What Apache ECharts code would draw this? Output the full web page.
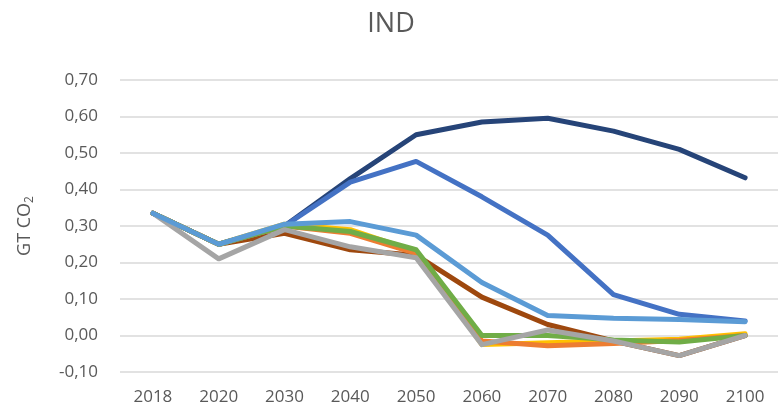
<!DOCTYPE html>
<html>
<head>
<meta charset="utf-8">
<script src="https://cdn.jsdelivr.net/npm/echarts@6/dist/echarts.min.js"></script>
<style>
  html, body { margin: 0; padding: 0; background: #fff; }
  #chart { width: 782px; height: 417px; }
</style>
</head>
<body>
<div id="chart"></div>
<script>
var years = ['2018', '2020', '2030', '2040', '2050', '2060', '2070', '2080', '2090', '2100'];

var navy   = [0.335, 0.250, 0.300, 0.430, 0.550, 0.585, 0.595, 0.560, 0.510, 0.432];
var blue   = [0.335, 0.250, 0.300, 0.420, 0.477, 0.380, 0.275, 0.112, 0.058, 0.040];
var ltblue = [0.335, 0.250, 0.305, 0.312, 0.275, 0.145, 0.055, 0.047, 0.044, 0.038];
var orange = [0.335, 0.250, 0.300, 0.280, 0.225, -0.015, -0.028, -0.022, -0.014, 0.000];
var yellow = [0.335, 0.250, 0.305, 0.290, 0.230, -0.025, -0.020, -0.015, -0.010, 0.005];
var green  = [0.335, 0.250, 0.300, 0.285, 0.235, 0.000, 0.000, -0.012, -0.018, 0.000];
var brown  = [0.335, 0.250, 0.280, 0.235, 0.220, 0.105, 0.030, -0.015, -0.055, 0.000];
var gray   = [0.335, 0.210, 0.290, 0.243, 0.213, -0.025, 0.015, -0.015, -0.055, 0.000];

var txt = '#595959';

function line(data, color) {
    return {
        type: 'line',
        data: data,
        symbol: 'none',
        lineStyle: { color: color, width: 5, cap: 'round', join: 'round' },
        itemStyle: { color: color },
        animation: false
    };
}

var myChart = echarts.init(document.getElementById('chart'));
myChart.setOption({
    animation: false,
    title: {
        text: 'IND',
        left: 'center',
        top: 6,
        textStyle: { color: txt, fontSize: 27, fontWeight: 'normal', fontFamily: 'Open Sans' }
    },
    grid: { left: 120, right: 4, top: 80, bottom: 45 },
    xAxis: {
        type: 'category',
        data: years,
        boundaryGap: true,
        axisLine: { show: false },
        axisTick: { show: false },
        axisLabel: { color: txt, fontSize: 17, margin: 17, fontFamily: 'Open Sans' }
    },
    yAxis: {
        type: 'value',
        min: -0.1,
        max: 0.7,
        interval: 0.1,
        name: '{a|GT CO}{b|2}',
        nameLocation: 'middle',
        nameGap: 84,
        nameTextStyle: {
            rich: {
                a: { color: txt, fontSize: 18, fontFamily: 'Open Sans' },
                b: { color: txt, fontSize: 12, fontFamily: 'Open Sans', padding: [10, 0, 0, 0] }
            }
        },
        axisLabel: {
            color: txt,
            fontSize: 17,
            margin: 22,
            fontFamily: 'Open Sans',
            formatter: function (v) { return v.toFixed(2).replace('.', ','); }
        },
        splitLine: { lineStyle: { color: '#d9d9d9', width: 1.5 } }
    },
    series: [
        line(brown, '#9E480E'),
        line(navy, '#264478'),
        line(blue, '#4472C4'),
        line(yellow, '#FFC000'),
        line(orange, '#ED7D31'),
        line(green, '#70AD47'),
        line(gray, '#A5A5A5'),
        line(ltblue, '#5B9BD5')
    ]
});
</script>
</body>
</html>
